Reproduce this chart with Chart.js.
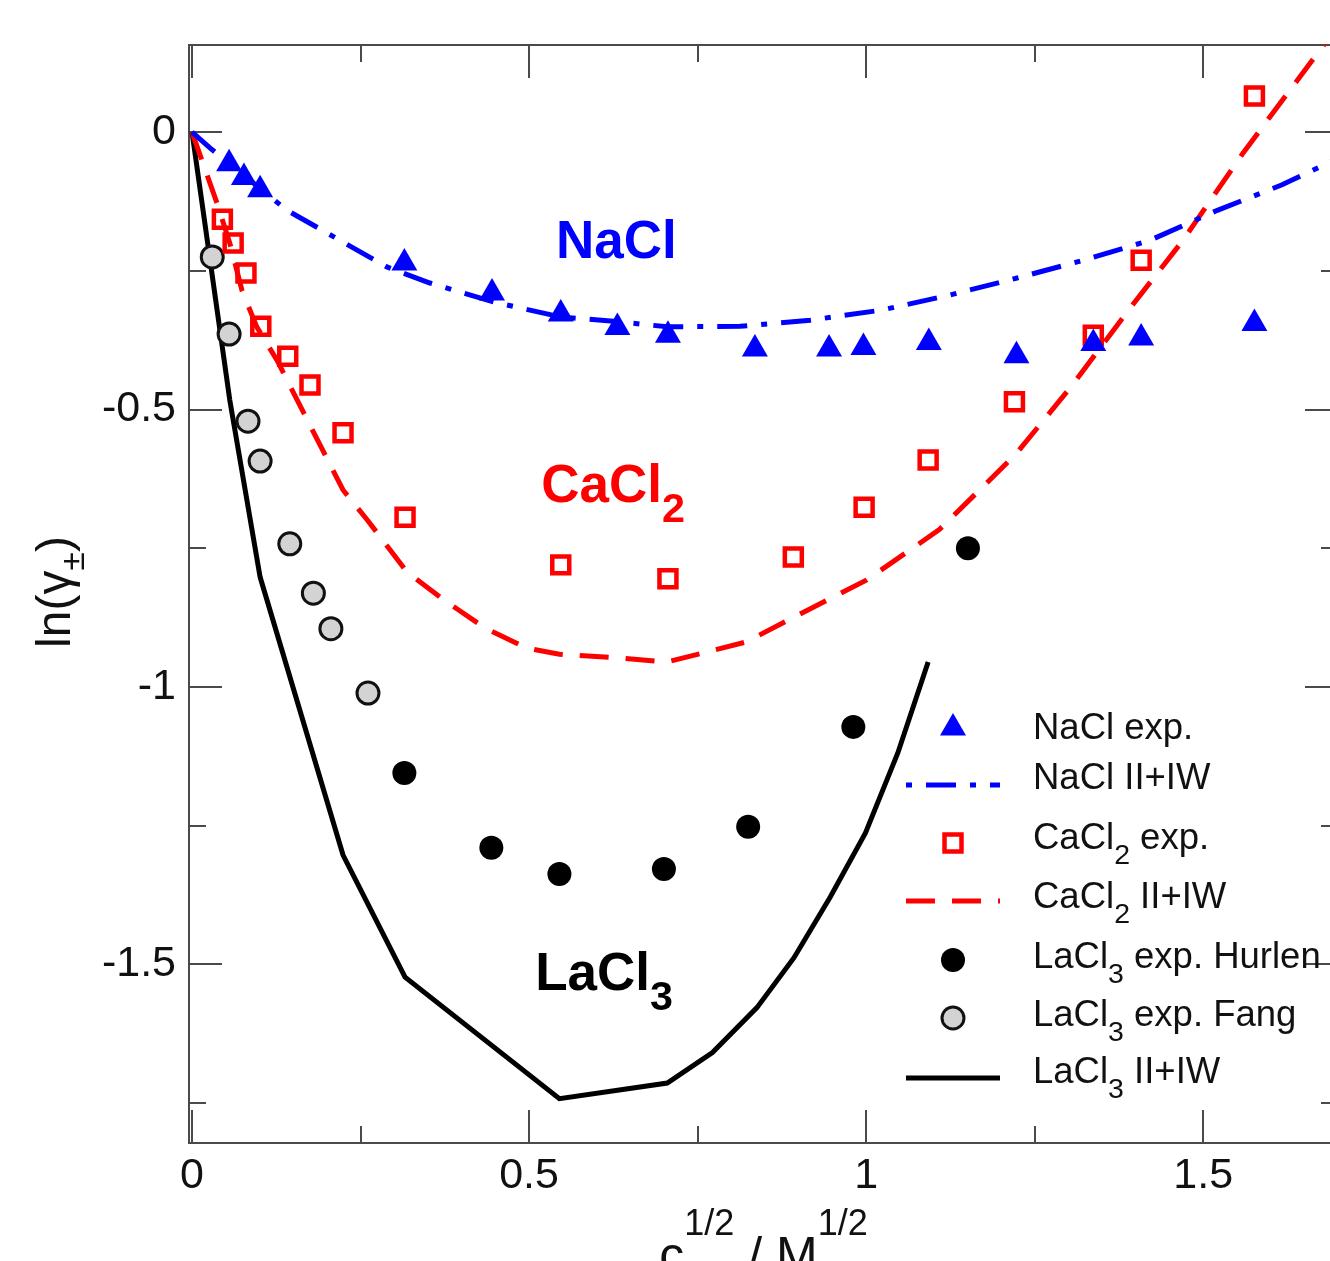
<!DOCTYPE html>
<html>
<head>
<meta charset="utf-8">
<script src="https://cdn.jsdelivr.net/npm/chart.js@4.4.1/dist/chart.umd.min.js"></script>
<style>
    html, body { margin: 0; padding: 0; background: #fff; overflow: hidden; }
    #wrap { position: relative; width: 1330px; height: 1261px; overflow: hidden; }
    #gamma-chart { position: absolute; left: 0; top: 0; }
</style>
</head>
<body>
<div id="wrap"><canvas id="gamma-chart" width="1360" height="1261"></canvas></div>
<script>
// NaCl experimental points
const naclExpX = [0.055, 0.077, 0.101, 0.315, 0.445, 0.547, 0.631, 0.706, 0.835, 0.945, 0.996, 1.093, 1.223, 1.337, 1.408, 1.576];
const naclExpY = [-0.057, -0.082, -0.104, -0.236, -0.290, -0.328, -0.352, -0.366, -0.391, -0.391, -0.388, -0.379, -0.403, -0.381, -0.371, -0.345];

// NaCl II+IW model
const naclFitX = [0, 0.027, 0.141, 0.289, 0.353, 0.447, 0.546, 0.635, 0.705, 0.813, 0.917, 1.022, 1.123, 1.224, 1.322, 1.421, 1.521, 1.617, 1.70];
const naclFitY = [0, -0.029, -0.141, -0.243, -0.272, -0.306, -0.333, -0.342, -0.351, -0.350, -0.339, -0.321, -0.294, -0.263, -0.231, -0.195, -0.141, -0.095, -0.047];

// CaCl2 experimental points
const caclExpX = [0.045, 0.061, 0.080, 0.102, 0.142, 0.175, 0.224, 0.316, 0.547, 0.706, 0.892, 0.997, 1.092, 1.220, 1.337, 1.408, 1.576];
const caclExpY = [-0.157, -0.200, -0.254, -0.350, -0.404, -0.456, -0.542, -0.694, -0.780, -0.805, -0.766, -0.676, -0.591, -0.486, -0.366, -0.231, 0.065];

// CaCl2 II+IW model
const caclFitX = [0, 0.037, 0.056, 0.074, 0.096, 0.126, 0.171, 0.224, 0.260, 0.319, 0.378, 0.435, 0.497, 0.545, 0.635, 0.705, 0.822, 0.890, 1.001, 1.108, 1.221, 1.304, 1.393, 1.470, 1.559, 1.640, 1.72];
const caclFitY = [0, -0.128, -0.200, -0.285, -0.351, -0.411, -0.519, -0.645, -0.699, -0.793, -0.847, -0.894, -0.930, -0.941, -0.948, -0.955, -0.919, -0.876, -0.807, -0.717, -0.582, -0.459, -0.315, -0.195, -0.038, 0.094, 0.224];

// LaCl3 experimental points (Hurlen, Fang)
const hurlenX = [0.315, 0.444, 0.545, 0.700, 0.825, 0.981, 1.151];
const hurlenY = [-1.155, -1.290, -1.337, -1.328, -1.252, -1.072, -0.750];
const fangX = [0.030, 0.055, 0.083, 0.101, 0.145, 0.180, 0.206, 0.261];
const fangY = [-0.225, -0.364, -0.521, -0.593, -0.742, -0.831, -0.895, -1.011];

// LaCl3 II+IW model
const laclFitX = [0, 0.056, 0.101, 0.224, 0.316, 0.545, 0.705, 0.772, 0.838, 0.893, 0.947, 0.999, 1.047, 1.092];
const laclFitY = [0, -0.483, -0.802, -1.303, -1.523, -1.742, -1.714, -1.659, -1.578, -1.488, -1.378, -1.263, -1.119, -0.955];

// ticks
const xTicks = [0, 0.5, 1, 1.5];
const xMinor = [0.25, 0.75, 1.25];
const yTicks = [0, -0.5, -1, -1.5];
const yMinor = [-0.25, -0.75, -1.25, -1.75];

const FONT = '"Liberation Sans", Arial, sans-serif';
const pts = (xs, ys) => xs.map((x, i) => ({ x, y: ys[i] }));

// text with _x subscripts and ^{..} superscripts
function richParts(text) {
    const parts = [];
    let i = 0;
    while (i < text.length) {
        if (text[i] === '_') {
            parts.push({ t: text[i + 1], k: 'sub' });
            i += 2;
        } else if (text[i] === '^') {
            const j = text.indexOf('}', i);
            parts.push({ t: text.slice(i + 2, j), k: 'sup' });
            i = j + 1;
        } else {
            let j = i;
            while (j < text.length && text[j] !== '_' && text[j] !== '^') j++;
            parts.push({ t: text.slice(i, j), k: 'n' });
            i = j;
        }
    }
    return parts;
}

function drawRich(ctx, text, x, y, o) {
    const parts = richParts(text);
    const sizeOf = k => k === 'n' ? o.size : o.size * (k === 'sub' ? o.subScale : o.supScale);
    const fontOf = k => `${o.weight || 'normal'} ${sizeOf(k)}px ${FONT}`;
    let w = 0;
    parts.forEach(p => { ctx.font = fontOf(p.k); p.w = ctx.measureText(p.t).width; w += p.w; });
    let cx = o.align === 'center' ? x - w / 2 : x;
    ctx.fillStyle = o.color;
    ctx.textAlign = 'left';
    ctx.textBaseline = 'alphabetic';
    parts.forEach(p => {
        ctx.font = fontOf(p.k);
        let dy = 0;
        if (p.k === 'sub') dy = o.size * o.subShift;
        if (p.k === 'sup') dy = -o.size * o.supShift;
        ctx.fillText(p.t, cx, y + dy);
        cx += p.w;
    });
}

function drawMarker(ctx, ds, x, y) {
    const r = ds.pointRadius;
    ctx.save();
    ctx.fillStyle = ds.pointBackgroundColor;
    ctx.strokeStyle = ds.pointBorderColor;
    ctx.lineWidth = ds.pointBorderWidth;
    ctx.beginPath();
    if (ds.pointStyle === 'triangle') {
        ctx.moveTo(x, y - r);
        ctx.lineTo(x + r * Math.sqrt(3) / 2, y + r / 2);
        ctx.lineTo(x - r * Math.sqrt(3) / 2, y + r / 2);
        ctx.closePath();
    } else if (ds.pointStyle === 'rect') {
        const s = r * Math.SQRT1_2;
        ctx.rect(x - s, y - s, 2 * s, 2 * s);
    } else {
        ctx.arc(x, y, r, 0, Math.PI * 2);
    }
    ctx.fill();
    if (ds.pointBorderWidth) ctx.stroke();
    ctx.restore();
}

// salt name tags, placed in data units
const saltTags = [
    { text: 'NaCl', color: '#0000ff', x: 0.540, y: -0.227 },
    { text: 'CaCl_2', color: '#ff0000', x: 0.518, y: -0.667 },
    { text: 'LaCl_3', color: '#000000', x: 0.509, y: -1.546 }
];

// legend rows (pixels)
const legendMarkY = [728, 785, 843, 901, 960, 1018, 1078];
const legendTextY = [739, 789, 849, 908, 968, 1026, 1083];

const framePlugin = {
    id: 'framePlugin',
    beforeDatasetsDraw(chart) {
        const { ctx, chartArea: a, scales: { x, y } } = chart;
        ctx.save();
        ctx.strokeStyle = '#4a4a4a';
        ctx.lineWidth = 2;
        ctx.strokeRect(a.left, a.top, a.right - a.left, a.bottom - a.top);
        ctx.beginPath();
        const vTick = (v, len) => {
            const px = Math.round(x.getPixelForValue(v));
            ctx.moveTo(px, a.bottom); ctx.lineTo(px, a.bottom - len);
            ctx.moveTo(px, a.top); ctx.lineTo(px, a.top + len);
        };
        const hTick = (v, len) => {
            const py = Math.round(y.getPixelForValue(v));
            ctx.moveTo(a.left, py); ctx.lineTo(a.left + len, py);
            ctx.moveTo(a.right, py); ctx.lineTo(a.right - len, py);
        };
        xTicks.forEach(v => vTick(v, 33));
        xMinor.forEach(v => vTick(v, 17));
        yTicks.forEach(v => hTick(v, 33));
        yMinor.forEach(v => hTick(v, 17));
        ctx.stroke();
        ctx.restore();
    },
    afterDraw(chart) {
        const { ctx, chartArea: a, scales: { x, y } } = chart;
        ctx.save();

        // salt names
        saltTags.forEach(t => {
            drawRich(ctx, t.text, x.getPixelForValue(t.x), y.getPixelForValue(t.y),
                { size: 53, weight: 'bold', color: t.color, subScale: 0.78, subShift: 0.38 });
        });

        // legend
        chart.data.datasets.forEach((ds, i) => {
            const my = legendMarkY[i];
            if (ds.showLine) {
                ctx.save();
                ctx.strokeStyle = ds.borderColor;
                ctx.lineWidth = ds.borderWidth;
                ctx.setLineDash(ds.borderDash || []);
                ctx.lineDashOffset = ds.legendDashOffset || 0;
                ctx.beginPath();
                ctx.moveTo(906, my);
                ctx.lineTo(1000, my);
                ctx.stroke();
                ctx.restore();
            } else {
                drawMarker(ctx, ds, 953, my);
            }
            drawRich(ctx, ds.label, 1033, legendTextY[i],
                { size: 36.5, color: '#111', subScale: 0.78, subShift: 0.42 });
        });

        // axis titles
        drawRich(ctx, 'c^{1/2} / M^{1/2}', (a.left + a.right) / 2, 1272,
            { size: 50, color: '#111', align: 'center', supScale: 0.72, supShift: 0.75 });
        ctx.translate(70, 592);
        ctx.rotate(-Math.PI / 2);
        drawRich(ctx, 'ln(γ_±)', 0, 0,
            { size: 48, color: '#111', align: 'center', subScale: 0.7, subShift: 0.3 });
        ctx.restore();
    }
};

// setup block

const markerSet = (label, xs, ys, style, radius, fill, stroke, bw) => ({
    label,
    data: pts(xs, ys),
    showLine: false,
    pointStyle: style,
    pointRadius: radius,
    pointHoverRadius: radius,
    pointBackgroundColor: fill,
    pointBorderColor: stroke,
    pointBorderWidth: bw,
    order: 0
});

const lineSet = (label, xs, ys, color, width, dash, dashOffset) => ({
    label,
    data: pts(xs, ys),
    showLine: true,
    borderColor: color,
    borderWidth: width,
    borderDash: dash,
    legendDashOffset: dashOffset,
    pointRadius: 0,
    tension: 0,
    fill: false,
    order: 1
});

const data = {
    datasets: [
        markerSet('NaCl exp.', naclExpX, naclExpY, 'triangle', 15, '#0000ff', '#0000ff', 0),
        lineSet('NaCl II+IW', naclFitX, naclFitY, '#0000ff', 5, [30, 14, 6, 14], 44),
        markerSet('CaCl_2 exp.', caclExpX, caclExpY, 'rect', 12, 'rgba(0,0,0,0)', '#ff0000', 4.5),
        lineSet('CaCl_2 II+IW', caclFitX, caclFitY, '#ff0000', 5, [29, 17], 0),
        markerSet('LaCl_3 exp. Hurlen', hurlenX, hurlenY, 'circle', 12, '#000000', '#000000', 0),
        markerSet('LaCl_3 exp. Fang', fangX, fangY, 'circle', 11, '#d3d3d3', '#111111', 3),
        lineSet('LaCl_3 II+IW', laclFitX, laclFitY, '#000000', 5, [], 0)
    ]
};

// config block

const tickFont = { family: FONT, size: 43 };

const config = {
    type: 'scatter',
    data,
    options: {
        responsive: false,
        animation: false,
        devicePixelRatio: 1,
        layout: { padding: { left: 0, top: 45, right: 22, bottom: 0 } },
        plugins: {
            legend: { display: false },
            tooltip: { enabled: false }
        },
        scales: {
            x: {
                type: 'linear',
                min: -0.0045,
                max: 1.7,
                grid: { display: false, drawTicks: false },
                border: { display: false },
                afterFit: s => { s.height = 118; },
                afterBuildTicks: s => { s.ticks = xTicks.map(v => ({ value: v })); },
                ticks: { font: tickFont, color: '#111', padding: 7, maxRotation: 0, callback: v => String(v) }
            },
            y: {
                type: 'linear',
                min: -1.822,
                max: 0.157,
                grid: { display: false, drawTicks: false },
                border: { display: false },
                afterFit: s => { s.width = 189; },
                afterBuildTicks: s => { s.ticks = yTicks.map(v => ({ value: v })); },
                ticks: { font: tickFont, color: '#111', padding: 13, callback: v => String(v) }
            }
        }
    },
    plugins: [framePlugin]
};

// render init block

const gammaChart = new Chart(
    document.getElementById('gamma-chart'),
    config
);
</script>
</body>
</html>
